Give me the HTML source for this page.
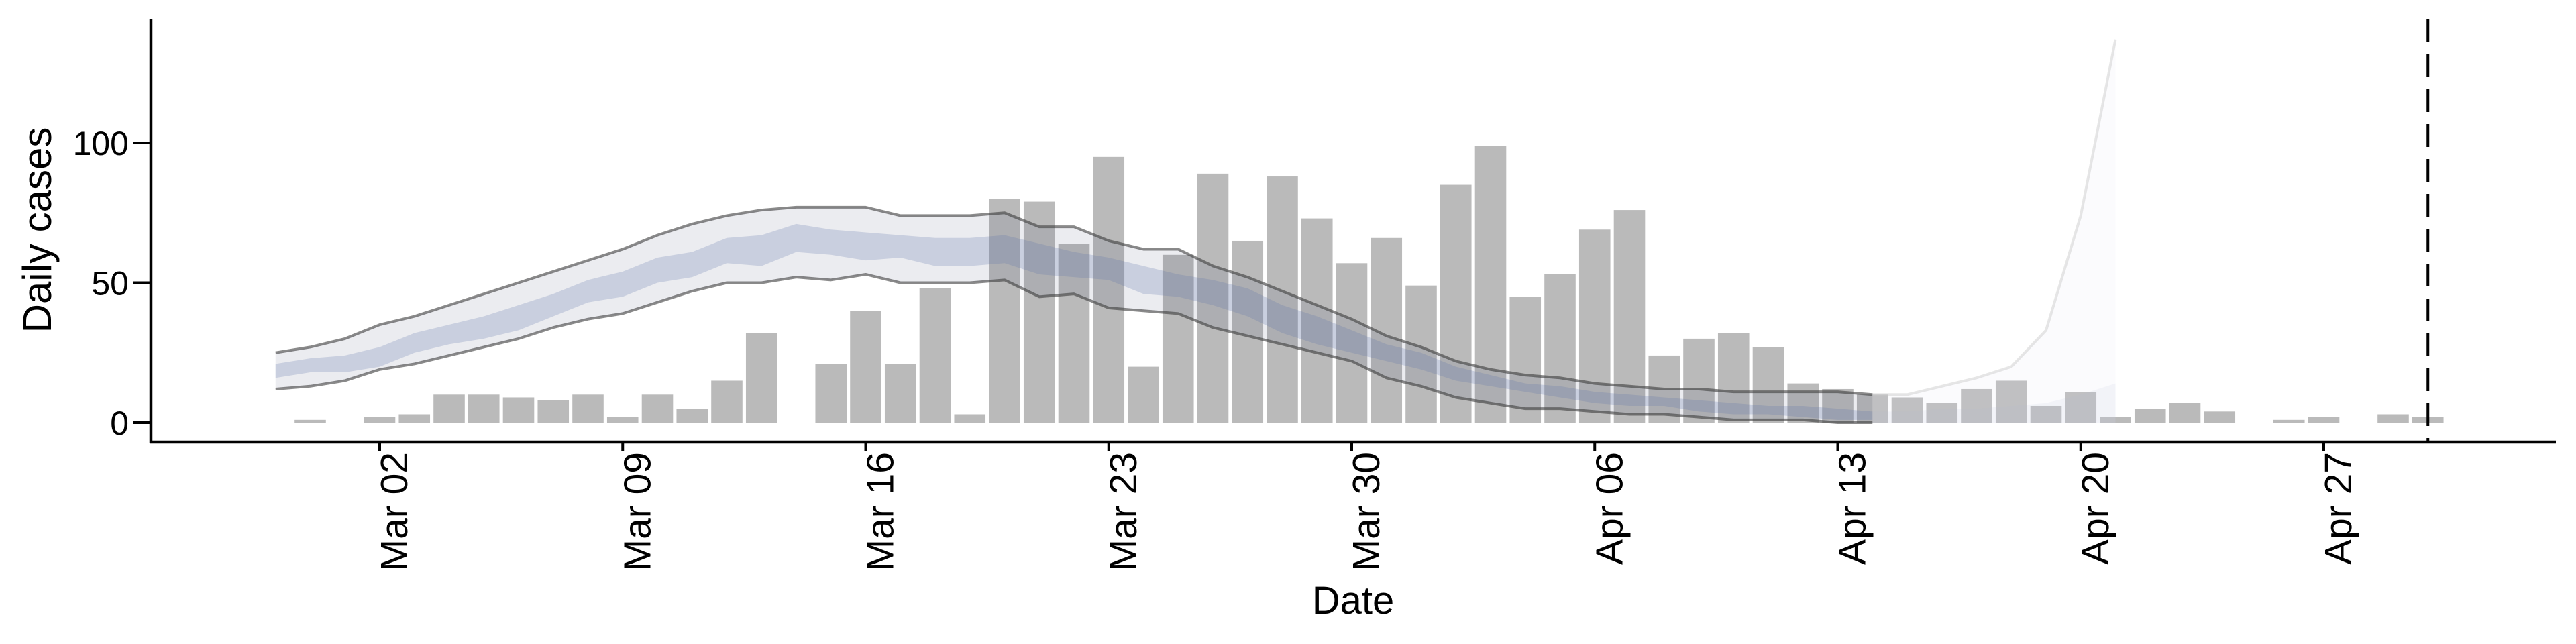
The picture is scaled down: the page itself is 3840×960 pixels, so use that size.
<!DOCTYPE html>
<html><head><meta charset="utf-8"><style>
html,body{margin:0;padding:0;background:#fff;}
svg{display:block;font-family:"Liberation Sans",sans-serif;}
</style></head><body>
<svg id="chart" width="3840" height="960" viewBox="0 0 3840 960" xmlns="http://www.w3.org/2000/svg">
<g id="plot"></g>
</svg>
<script>
// Data (day offsets relative to Mar 02)
const barStart = -2;
const barValues = [1,0,2,3,10,10,9,8,10,2,10,5,15,32,0,21,40,21,48,3,80,79,64,95,20,60,89,65,88,73,57,66,49,85,99,45,53,69,76,24,30,32,27,14,12,10,9,7,12,15,6,11,2,5,7,4,0,1,2,0,3,2];
const ribbonStart = -3;
const outerUpper = [25,27,30,35,38,42,46,50,54,58,62,67,71,74,76,77,77,77,74,74,74,75,70,70,65,62,62,56,52,47,42,37,31,27,22,19,17,16,14,13,12,12,11,11,11,11,10];
const outerLower = [12,13,15,19,21,24,27,30,34,37,39,43,47,50,50,52,51,53,50,50,50,51,45,46,41,40,39,34,31,28,25,22,16,13,9,7,5,5,4,3,3,2,1,1,1,0,0];
const innerUpper = [21,23,24,27,32,35,38,42,46,51,54,59,61,66,67,71,69,68,67,66,66,67,64,61,59,56,53,51,48,42,38,33,28,25,20,17,14,13,11,10,9,8,7,6,6,5,4];
const innerLower = [16,18,18,20,25,28,30,33,38,43,45,50,52,57,56,61,60,58,59,56,56,57,53,52,51,46,45,42,38,32,28,25,22,19,15,13,11,9,7,6,6,4,3,3,2,1,1];
const projStart = 43;
const projUpper = [10,10,13,16,20,33,74,137];
const projInner = [4,4,5,5,6,7,10,14];
const projLower = [0,0,0,0,0,0,0,0];
const xTickOffsets = [0,7,14,21,28,35,42,49,56];
const xTickLabels = ["Mar 02","Mar 09","Mar 16","Mar 23","Mar 30","Apr 06","Apr 13","Apr 20","Apr 27"];
const yTicks = [0,50,100];
const cutoffOffset = 59;

const NS = "http://www.w3.org/2000/svg";
const X0 = 566, DAY = 51.75, Y0 = 630, PPU = 4.17;
const xs = d => X0 + d * DAY;
const ys = v => Y0 - v * PPU;
const g = document.getElementById('plot');
function mk(tag, attrs, parent){
  const e = document.createElementNS(NS, tag);
  for (const k in attrs) e.setAttribute(k, attrs[k]);
  (parent||g).appendChild(e); return e;
}
barValues.forEach((v,i)=>{
  if (v<=0) return;
  const d = barStart + i;
  const r = mk('rect',{x:xs(d)-23.3,y:ys(v),width:46.6,height:v*PPU,fill:'#bababa'});
  
  
});
function band(up, lo, start, fill, name){
  let pts = up.map((v,i)=>xs(start+i)+','+ys(v));
  for (let i=lo.length-1;i>=0;i--) pts.push(xs(start+i)+','+ys(lo[i]));
  const p = mk('polygon',{points:pts.join(' '),fill:fill});
  
  
}
function line(vals, start, stroke, name, w){
  const p = mk('polyline',{points:vals.map((v,i)=>xs(start+i)+','+ys(v)).join(' '),fill:'none',stroke:stroke,'stroke-width':w||4,'stroke-linejoin':'round'});
  
  
}
band(projUpper, projLower, projStart, 'rgba(225,228,240,0.15)', 'projection-outer-band');
band(projInner, projLower, projStart, 'rgba(180,190,215,0.12)', 'projection-inner-band');
line(projUpper, projStart, 'rgba(200,200,200,0.45)', 'projection-upper-line');
band(outerUpper, outerLower, ribbonStart, 'rgba(60,70,110,0.1)', 'outer-credible-band');
band(innerUpper, innerLower, ribbonStart, 'rgba(100,120,170,0.25)', 'inner-credible-band');
line(outerUpper, ribbonStart, 'rgba(60,60,60,0.6)', 'upper-bound-line');
line(outerLower, ribbonStart, 'rgba(60,60,60,0.6)', 'lower-bound-line');
const c = mk('line',{x1:xs(cutoffOffset),x2:xs(cutoffOffset),y1:29,y2:659,stroke:'#000','stroke-width':4,'stroke-dasharray':'34 18'});


const ya = mk('line',{x1:225,x2:225,y1:29,y2:661,stroke:'#000','stroke-width':4.5});


const xa = mk('line',{x1:223,x2:3810,y1:659,y2:659,stroke:'#000','stroke-width':4.5});


yTicks.forEach(v=>{
  const t = mk('line',{x1:199,x2:225,y1:ys(v),y2:ys(v),stroke:'#000','stroke-width':4});
  
  
  const l = mk('text',{x:192,y:ys(v)+18,'text-anchor':'end','font-size':50,fill:'#000'});
  l.textContent = v;
  
  
});
xTickOffsets.forEach((d,i)=>{
  const x = xs(d);
  const t = mk('line',{x1:x,x2:x,y1:659,y2:673,stroke:'#000','stroke-width':4});
  
  
  const l = mk('text',{x:0,y:0,'text-anchor':'end','font-size':57,fill:'#000',transform:`translate(${x+41},674) rotate(-90)`});
  l.textContent = xTickLabels[i];
  
  
});
const yt = mk('text',{x:0,y:0,'text-anchor':'middle','font-size':60,fill:'#000',transform:'translate(76,343) rotate(-90)'});
yt.textContent = 'Daily cases';


const xt = mk('text',{x:2017,y:915,'text-anchor':'middle','font-size':58,fill:'#000'});
xt.textContent = 'Date';


</script>
</body></html>
